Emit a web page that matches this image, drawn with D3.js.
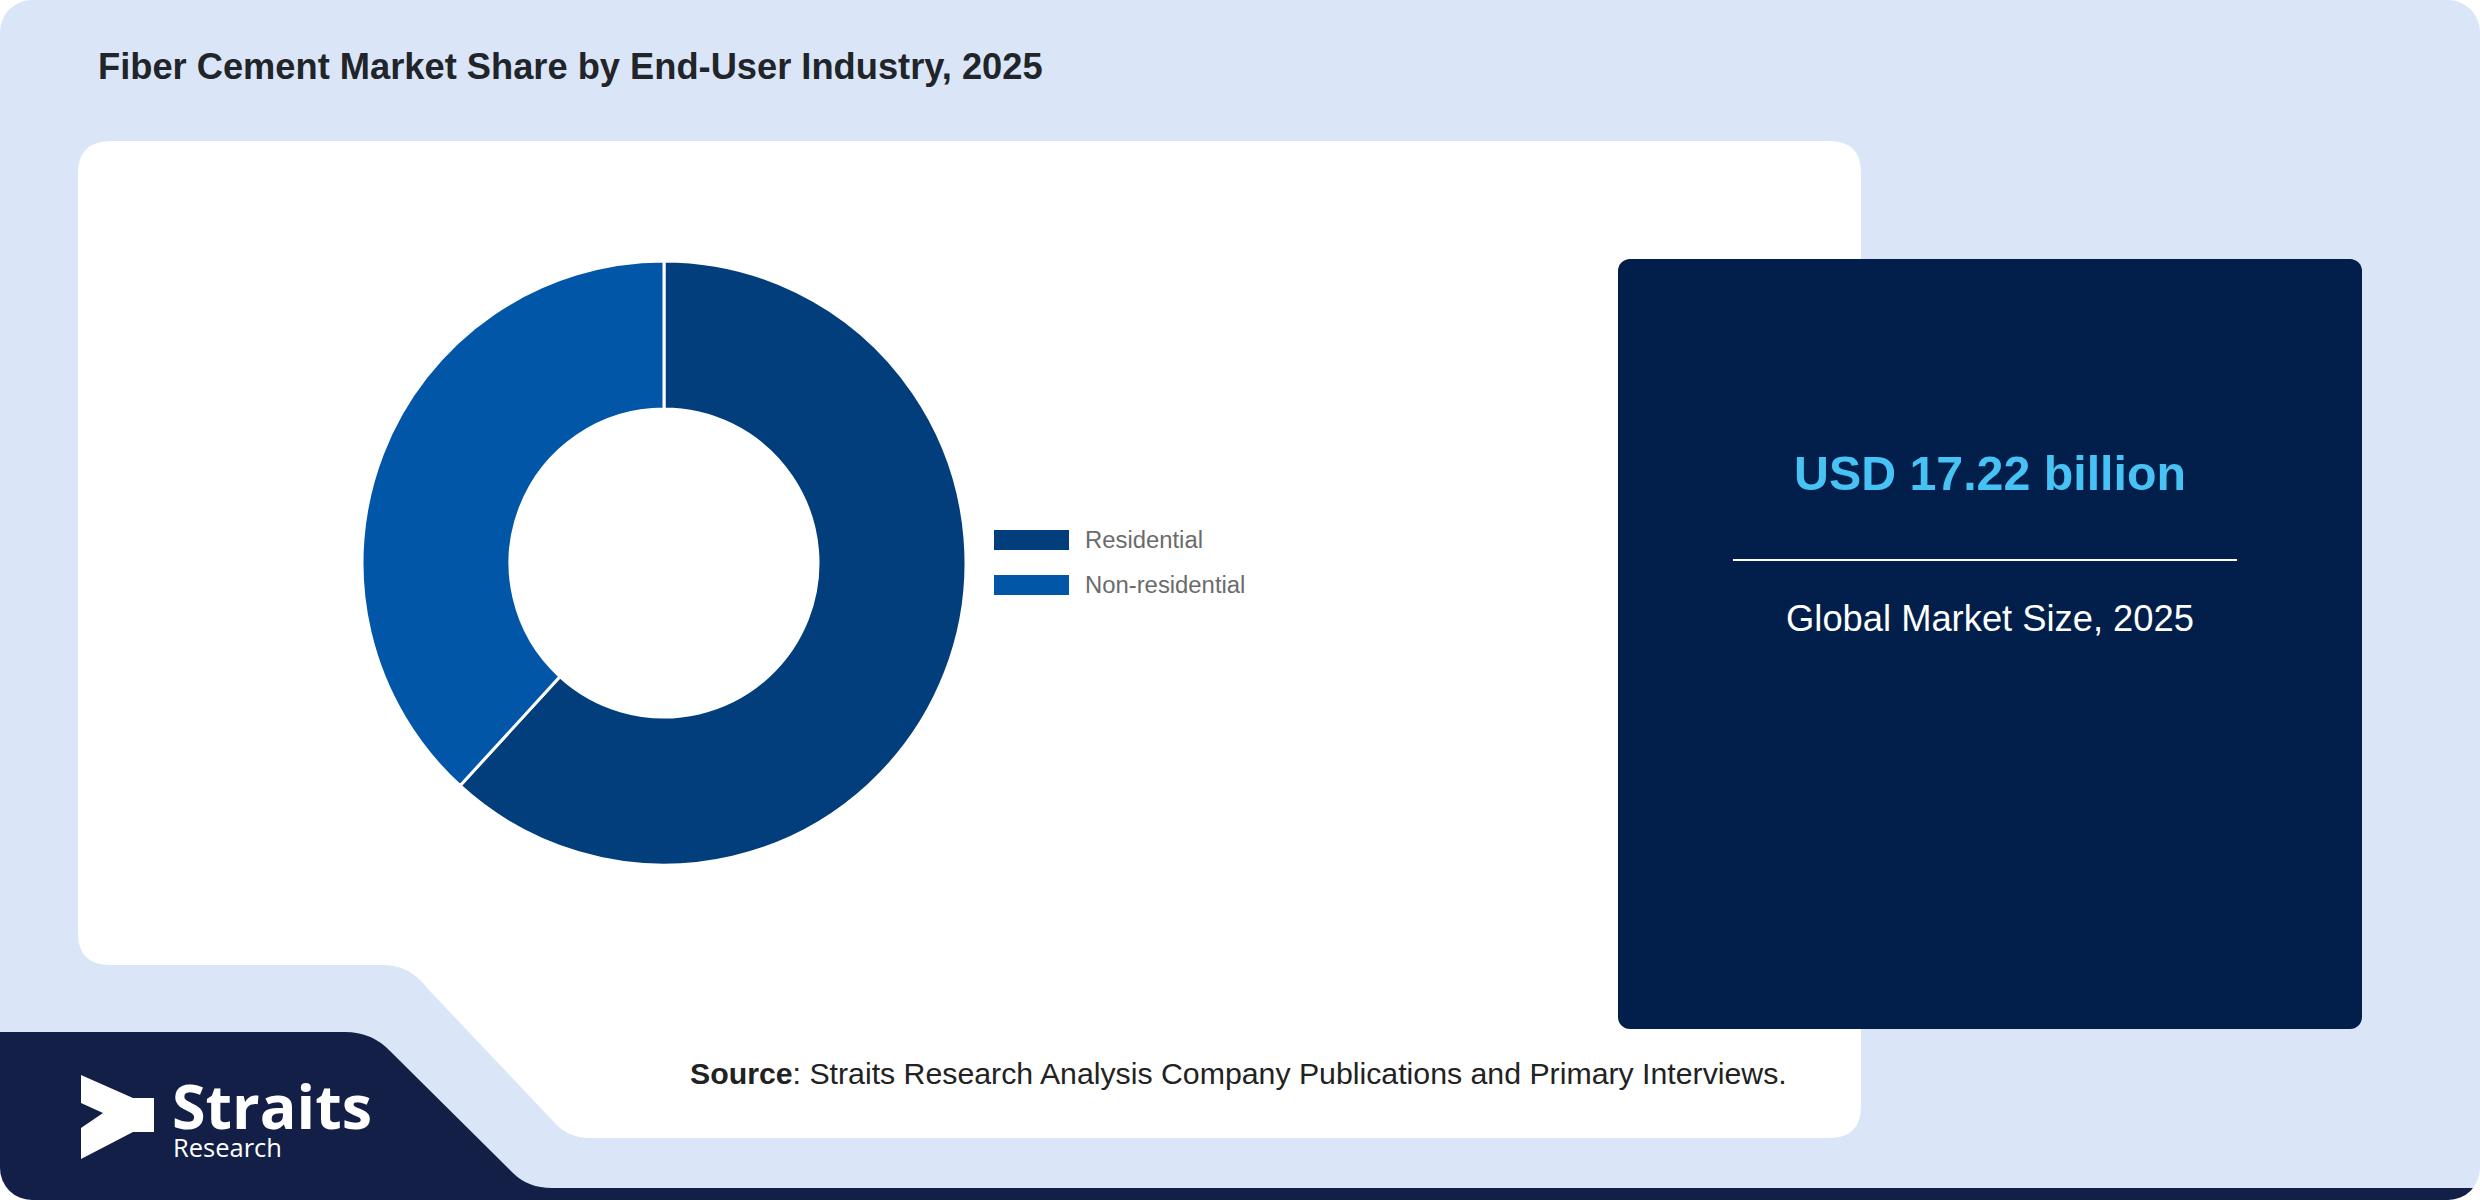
<!DOCTYPE html>
<html>
<head>
<meta charset="utf-8">
<script src="https://cdn.jsdelivr.net/npm/d3@7"></script>
<style>
  html, body { margin: 0; padding: 0; background: #ffffff; }
  svg { display: block; }
</style>
</head>
<body>
<svg id="chart" width="2480" height="1200"></svg>
<script>
// chart values
var segments = ["Residential", "Non-residential"];
var shares = [61.8, 38.2];
var segmentColors = ["#023e7b", "#0256a8"];
var chartTitle = "Fiber Cement Market Share by End-User Industry, 2025";
var marketSize = "USD 17.22 billion";
var marketLabel = "Global Market Size, 2025";
var sourceLabel = "Source";
var sourceText = ": Straits Research Analysis Company Publications and Primary Interviews.";
var brand = ["Straits", "Research"];

var W = 2480, H = 1200;
var svg = d3.select("#chart");
var font = "'Liberation Sans', Arial, Helvetica, sans-serif";

// shrink/grow a text (or tspan) so it takes the given width
var fitText = function(sel, target) {
    var w = sel.node().getComputedTextLength();
    var fs = parseFloat(sel.attr("font-size"));
    sel.attr("font-size", fs * target / w);
};

var defs = svg.append("defs");
defs.append("clipPath").attr("id", "frame")
    .append("rect").attr("width", W).attr("height", H).attr("rx", 32).attr("ry", 32);

var frame = svg.append("g").attr("clip-path", "url(#frame)");

// light blue background
frame.append("rect").attr("width", W).attr("height", H).attr("fill", "#dae6f8");

// white panel with the notch cut at bottom left
frame.append("path")
    .attr("fill", "#ffffff")
    .attr("d", "M 112,141 H 1829 Q 1861,141 1861,173 V 1106 Q 1861,1138 1829,1138 H 590 " +
               "Q 567,1138 553,1121 L 427,988 Q 410,965 383,965 H 110 Q 78,965 78,933 V 173 Q 78,141 112,141 Z");

// navy logo band
frame.append("path")
    .attr("fill", "#131f47")
    .attr("d", "M 0,1032 H 345 Q 372,1032 390,1051 L 513,1173 Q 528,1188 552,1188 H 2480 V 1200 H 0 Z");

// logo
var logo = frame.append("g");
logo.append("path")
    .attr("fill", "#ffffff")
    .attr("d", "M 81,1075 L 133,1098 H 154 V 1132 H 133 L 81,1159 V 1128 L 103,1113 L 81,1103 Z");
var brandText = logo.append("text")
    .attr("font-family", "'Open Sans', 'Noto Sans', sans-serif")
    .attr("fill", "#ffffff");
var straits = brandText.append("tspan")
    .attr("x", 172).attr("y", 1129)
    .attr("font-weight", 700).attr("font-size", 62)
    .text(brand[0]);
fitText(straits, 200);
var research = brandText.append("tspan")
    .attr("x", 173).attr("y", 1157)
    .attr("font-size", 26)
    .text(brand[1]);
fitText(research, 109);

// title
var title = svg.append("text")
    .attr("x", 98).attr("y", 79)
    .attr("font-family", font).attr("font-weight", 700).attr("font-size", 33)
    .attr("fill", "#212529")
    .text(chartTitle);
fitText(title, 945);

// donut
var cx = 664, cy = 563, outerR = 302, innerR = 154;
var pie = d3.pie().sort(null).value(function(d) { return d; });
var arc = d3.arc().innerRadius(innerR).outerRadius(outerR);
var color = d3.scaleOrdinal().domain(segments).range(segmentColors);

svg.append("g")
    .attr("transform", "translate(" + cx + "," + cy + ")")
    .selectAll("path")
    .data(pie(shares))
    .enter().append("path")
    .attr("d", arc)
    .attr("fill", function(d, i) { return color(segments[i]); })
    .attr("stroke", "#ffffff")
    .attr("stroke-width", 3);

// legend
var legendY = d3.scalePoint().domain(segments).range([540, 585]);
var legend = svg.append("g").selectAll("g")
    .data(segments)
    .enter().append("g")
    .attr("transform", function(d) { return "translate(994," + legendY(d) + ")"; });
legend.append("rect")
    .attr("x", 0).attr("y", -10).attr("width", 75).attr("height", 20)
    .attr("fill", function(d) { return color(d); });
var legendText = legend.append("text")
    .attr("x", 91).attr("y", 0).attr("dy", "0.35em")
    .attr("font-family", font).attr("font-size", 22)
    .attr("fill", "#6b6b6b")
    .text(function(d) { return d; });
fitText(d3.select(legendText.nodes()[0]), 118);
legendText.attr("font-size", d3.select(legendText.nodes()[0]).attr("font-size"));

// market size box
var box = { x: 1618, y: 259, w: 744, h: 770 };
svg.append("rect")
    .attr("x", box.x).attr("y", box.y).attr("width", box.w).attr("height", box.h)
    .attr("rx", 12).attr("ry", 12)
    .attr("fill", "#011f4a");
var boxMid = box.x + box.w / 2;
var usd = svg.append("text")
    .attr("x", boxMid).attr("y", 490)
    .attr("text-anchor", "middle")
    .attr("font-family", font).attr("font-weight", 700).attr("font-size", 46)
    .attr("fill", "#47c2f4")
    .text(marketSize);
fitText(usd, 392);
svg.append("line")
    .attr("x1", 1733).attr("x2", 2237).attr("y1", 560).attr("y2", 560)
    .attr("stroke", "#ffffff").attr("stroke-width", 2);
var glob = svg.append("text")
    .attr("x", boxMid).attr("y", 631)
    .attr("text-anchor", "middle")
    .attr("font-family", font).attr("font-size", 34)
    .attr("fill", "#ffffff")
    .text(marketLabel);
fitText(glob, 408);

// source line
var src = svg.append("text")
    .attr("x", 690).attr("y", 1084)
    .attr("font-family", font).attr("font-size", 29)
    .attr("fill", "#222222");
src.append("tspan").attr("font-weight", 700).text(sourceLabel);
src.append("tspan").text(sourceText);
fitText(src, 1097);
</script>
</body>
</html>
